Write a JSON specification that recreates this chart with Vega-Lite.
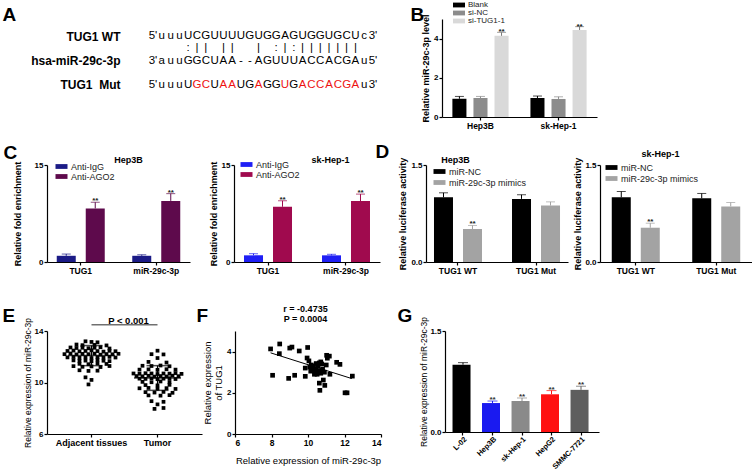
{
"$schema": "https://vega.github.io/schema/vega-lite/v6.json",
"padding": {"left": 2, "top": 1, "right": 0, "bottom": 0},
"autosize": {"type": "pad"},
"background": "white",
"config": {
  "font": "Liberation Sans",
  "view": {"stroke": null},
  "axis": {"domainColor": "#000", "domainWidth": 1.2, "tickColor": "#000", "tickWidth": 1.2, "tickSize": 3, "labelFontSize": 8, "labelFontWeight": "bold", "labelColor": "#000", "labelOverlap": false, "titleFontSize": 9, "titleFontWeight": "bold", "titleColor": "#000", "grid": false, "labelPadding": 1},
  "axisX": {"labelAngle": 0, "labelFontSize": 8.5},
  "legend": {"orient": "none", "title": null, "symbolType": "M-2,-0.8H2V0.8H-2Z", "symbolSize": 36, "symbolStrokeWidth": 0, "labelFontSize": 9, "labelColor": "#222", "labelFontWeight": "normal", "rowPadding": 0, "padding": 0, "offset": 0, "labelOffset": 5}
},
"datasets": {
  "a": [
    {"line":"TUG1 WT","pos":0,"ch":"5'"},{"line":"TUG1 WT","pos":1,"ch":"u"},{"line":"TUG1 WT","pos":2,"ch":"u"},{"line":"TUG1 WT","pos":3,"ch":"u"},
    {"line":"TUG1 WT","pos":4,"ch":"U"},{"line":"TUG1 WT","pos":5,"ch":"C"},{"line":"TUG1 WT","pos":6,"ch":"G"},{"line":"TUG1 WT","pos":7,"ch":"U"},
    {"line":"TUG1 WT","pos":8,"ch":"U"},{"line":"TUG1 WT","pos":9,"ch":"U"},{"line":"TUG1 WT","pos":10,"ch":"U"},{"line":"TUG1 WT","pos":11,"ch":"G"},
    {"line":"TUG1 WT","pos":12,"ch":"U"},{"line":"TUG1 WT","pos":13,"ch":"G"},{"line":"TUG1 WT","pos":14,"ch":"G"},{"line":"TUG1 WT","pos":15,"ch":"A"},
    {"line":"TUG1 WT","pos":16,"ch":"G"},{"line":"TUG1 WT","pos":17,"ch":"U"},{"line":"TUG1 WT","pos":18,"ch":"G"},{"line":"TUG1 WT","pos":19,"ch":"G"},
    {"line":"TUG1 WT","pos":20,"ch":"U"},{"line":"TUG1 WT","pos":21,"ch":"G"},{"line":"TUG1 WT","pos":22,"ch":"C"},{"line":"TUG1 WT","pos":23,"ch":"U"},
    {"line":"TUG1 WT","pos":24,"ch":"c"},{"line":"TUG1 WT","pos":25,"ch":"3'"},
    {"line":"pair","pos":4,"ch":":"},{"line":"pair","pos":5,"ch":"|"},{"line":"pair","pos":6,"ch":"|"},{"line":"pair","pos":8,"ch":"|"},
    {"line":"pair","pos":9,"ch":"|"},{"line":"pair","pos":12,"ch":"|"},{"line":"pair","pos":14,"ch":":"},{"line":"pair","pos":15,"ch":"|"},
    {"line":"pair","pos":16,"ch":":"},{"line":"pair","pos":17,"ch":"|"},{"line":"pair","pos":18,"ch":"|"},{"line":"pair","pos":19,"ch":"|"},
    {"line":"pair","pos":20,"ch":"|"},{"line":"pair","pos":21,"ch":"|"},{"line":"pair","pos":22,"ch":"|"},{"line":"pair","pos":23,"ch":"|"},
    {"line":"hsa-miR-29c-3p","pos":0,"ch":"3'"},{"line":"hsa-miR-29c-3p","pos":1,"ch":"a"},{"line":"hsa-miR-29c-3p","pos":2,"ch":"u"},{"line":"hsa-miR-29c-3p","pos":3,"ch":"u"},
    {"line":"hsa-miR-29c-3p","pos":4,"ch":"G"},{"line":"hsa-miR-29c-3p","pos":5,"ch":"G"},{"line":"hsa-miR-29c-3p","pos":6,"ch":"C"},{"line":"hsa-miR-29c-3p","pos":7,"ch":"U"},
    {"line":"hsa-miR-29c-3p","pos":8,"ch":"A"},{"line":"hsa-miR-29c-3p","pos":9,"ch":"A"},{"line":"hsa-miR-29c-3p","pos":10,"ch":"-"},{"line":"hsa-miR-29c-3p","pos":11,"ch":"-"},
    {"line":"hsa-miR-29c-3p","pos":12,"ch":"A"},{"line":"hsa-miR-29c-3p","pos":13,"ch":"G"},{"line":"hsa-miR-29c-3p","pos":14,"ch":"U"},{"line":"hsa-miR-29c-3p","pos":15,"ch":"U"},
    {"line":"hsa-miR-29c-3p","pos":16,"ch":"U"},{"line":"hsa-miR-29c-3p","pos":17,"ch":"A"},{"line":"hsa-miR-29c-3p","pos":18,"ch":"C"},{"line":"hsa-miR-29c-3p","pos":19,"ch":"C"},
    {"line":"hsa-miR-29c-3p","pos":20,"ch":"A"},{"line":"hsa-miR-29c-3p","pos":21,"ch":"C"},{"line":"hsa-miR-29c-3p","pos":22,"ch":"G"},{"line":"hsa-miR-29c-3p","pos":23,"ch":"A"},
    {"line":"hsa-miR-29c-3p","pos":24,"ch":"u"},{"line":"hsa-miR-29c-3p","pos":25,"ch":"5'"},
    {"line":"TUG1  Mut","pos":0,"ch":"5'"},{"line":"TUG1  Mut","pos":1,"ch":"u"},{"line":"TUG1  Mut","pos":2,"ch":"u"},{"line":"TUG1  Mut","pos":3,"ch":"u"},
    {"line":"TUG1  Mut","pos":4,"ch":"U"},{"line":"TUG1  Mut","pos":5,"ch":"G","mut":true},{"line":"TUG1  Mut","pos":6,"ch":"C","mut":true},{"line":"TUG1  Mut","pos":7,"ch":"U"},
    {"line":"TUG1  Mut","pos":8,"ch":"A","mut":true},{"line":"TUG1  Mut","pos":9,"ch":"A","mut":true},{"line":"TUG1  Mut","pos":10,"ch":"U"},{"line":"TUG1  Mut","pos":11,"ch":"G"},
    {"line":"TUG1  Mut","pos":12,"ch":"A","mut":true},{"line":"TUG1  Mut","pos":13,"ch":"G"},{"line":"TUG1  Mut","pos":14,"ch":"G"},{"line":"TUG1  Mut","pos":15,"ch":"U","mut":true},
    {"line":"TUG1  Mut","pos":16,"ch":"G"},{"line":"TUG1  Mut","pos":17,"ch":"A","mut":true},{"line":"TUG1  Mut","pos":18,"ch":"C","mut":true},{"line":"TUG1  Mut","pos":19,"ch":"C","mut":true},
    {"line":"TUG1  Mut","pos":20,"ch":"A","mut":true},{"line":"TUG1  Mut","pos":21,"ch":"C","mut":true},{"line":"TUG1  Mut","pos":22,"ch":"G","mut":true},{"line":"TUG1  Mut","pos":23,"ch":"A","mut":true},
    {"line":"TUG1  Mut","pos":24,"ch":"u"},{"line":"TUG1  Mut","pos":25,"ch":"3'"}
  ],
  "b": [
    {"cell":"Hep3B","series":"Blank","mean":0.93,"hi":1.05,"sig":""},
    {"cell":"Hep3B","series":"si-NC","mean":0.97,"hi":1.05,"sig":""},
    {"cell":"Hep3B","series":"si-TUG1-1","mean":4.14,"hi":4.32,"sig":"**"},
    {"cell":"sk-Hep-1","series":"Blank","mean":0.97,"hi":1.07,"sig":""},
    {"cell":"sk-Hep-1","series":"si-NC","mean":0.92,"hi":1.03,"sig":""},
    {"cell":"sk-Hep-1","series":"si-TUG1-1","mean":4.44,"hi":4.61,"sig":"**"}
  ],
  "c1": [
    {"cell":"TUG1","series":"Anti-IgG","mean":0.96,"hi":1.23,"sig":""},
    {"cell":"TUG1","series":"Anti-AGO2","mean":8.28,"hi":9.24,"sig":"**"},
    {"cell":"miR-29c-3p","series":"Anti-IgG","mean":0.96,"hi":1.12,"sig":""},
    {"cell":"miR-29c-3p","series":"Anti-AGO2","mean":9.45,"hi":10.57,"sig":"**"}
  ],
  "c2": [
    {"cell":"TUG1","series":"Anti-IgG","mean":1.03,"hi":1.29,"sig":""},
    {"cell":"TUG1","series":"Anti-AGO2","mean":8.54,"hi":9.47,"sig":"**"},
    {"cell":"miR-29c-3p","series":"Anti-IgG","mean":1.03,"hi":1.19,"sig":""},
    {"cell":"miR-29c-3p","series":"Anti-AGO2","mean":9.42,"hi":10.5,"sig":"**"}
  ],
  "d1": [
    {"cell":"TUG1 WT","series":"miR-NC","mean":1.0,"hi":1.07,"sig":""},
    {"cell":"TUG1 WT","series":"miR-29c-3p mimics","mean":0.51,"hi":0.565,"sig":"**"},
    {"cell":"TUG1 Mut","series":"miR-NC","mean":0.976,"hi":1.04,"sig":""},
    {"cell":"TUG1 Mut","series":"miR-29c-3p mimics","mean":0.873,"hi":0.93,"sig":""}
  ],
  "d2": [
    {"cell":"TUG1 WT","series":"miR-NC","mean":1.0,"hi":1.09,"sig":""},
    {"cell":"TUG1 WT","series":"miR-29c-3p mimics","mean":0.53,"hi":0.6,"sig":"**"},
    {"cell":"TUG1 Mut","series":"miR-NC","mean":0.985,"hi":1.06,"sig":""},
    {"cell":"TUG1 Mut","series":"miR-29c-3p mimics","mean":0.86,"hi":0.92,"sig":""}
  ],
  "e": [
    {"group":"Adjacent tissues","slot":-2,"value":13.2},{"group":"Adjacent tissues","slot":0,"value":13.15},{"group":"Adjacent tissues","slot":2,"value":13.12},
    {"group":"Adjacent tissues","slot":-5,"value":12.95},{"group":"Adjacent tissues","slot":-3,"value":12.9},{"group":"Adjacent tissues","slot":1,"value":12.92},{"group":"Adjacent tissues","slot":5,"value":12.88},
    {"group":"Adjacent tissues","slot":-7,"value":12.72},{"group":"Adjacent tissues","slot":-5,"value":12.68},{"group":"Adjacent tissues","slot":-3,"value":12.7},{"group":"Adjacent tissues","slot":-1,"value":12.66},
    {"group":"Adjacent tissues","slot":1,"value":12.7},{"group":"Adjacent tissues","slot":3,"value":12.74},{"group":"Adjacent tissues","slot":6,"value":12.64},
    {"group":"Adjacent tissues","slot":-8,"value":12.45},{"group":"Adjacent tissues","slot":-6,"value":12.48},{"group":"Adjacent tissues","slot":-4,"value":12.42},{"group":"Adjacent tissues","slot":-2,"value":12.45},
    {"group":"Adjacent tissues","slot":0,"value":12.5},{"group":"Adjacent tissues","slot":2,"value":12.44},{"group":"Adjacent tissues","slot":4,"value":12.4},{"group":"Adjacent tissues","slot":6,"value":12.46},{"group":"Adjacent tissues","slot":8,"value":12.43},
    {"group":"Adjacent tissues","slot":-9,"value":12.2},{"group":"Adjacent tissues","slot":-7,"value":12.25},{"group":"Adjacent tissues","slot":-5,"value":12.18},{"group":"Adjacent tissues","slot":-3,"value":12.22},
    {"group":"Adjacent tissues","slot":-1,"value":12.2},{"group":"Adjacent tissues","slot":1,"value":12.24},{"group":"Adjacent tissues","slot":3,"value":12.16},{"group":"Adjacent tissues","slot":5,"value":12.21},
    {"group":"Adjacent tissues","slot":7,"value":12.19},{"group":"Adjacent tissues","slot":9,"value":12.23},
    {"group":"Adjacent tissues","slot":-8,"value":11.95},{"group":"Adjacent tissues","slot":-6,"value":11.98},{"group":"Adjacent tissues","slot":-4,"value":11.92},{"group":"Adjacent tissues","slot":-2,"value":11.96},
    {"group":"Adjacent tissues","slot":0,"value":11.9},{"group":"Adjacent tissues","slot":2,"value":11.97},{"group":"Adjacent tissues","slot":4,"value":11.93},{"group":"Adjacent tissues","slot":6,"value":11.99},{"group":"Adjacent tissues","slot":8,"value":11.94},
    {"group":"Adjacent tissues","slot":-6,"value":11.72},{"group":"Adjacent tissues","slot":-4,"value":11.68},{"group":"Adjacent tissues","slot":-2,"value":11.7},{"group":"Adjacent tissues","slot":0,"value":11.65},
    {"group":"Adjacent tissues","slot":2,"value":11.74},{"group":"Adjacent tissues","slot":4,"value":11.69},{"group":"Adjacent tissues","slot":6,"value":11.66},
    {"group":"Adjacent tissues","slot":-4,"value":11.45},{"group":"Adjacent tissues","slot":-1,"value":11.42},{"group":"Adjacent tissues","slot":2,"value":11.48},{"group":"Adjacent tissues","slot":5,"value":11.44},
    {"group":"Adjacent tissues","slot":-6,"value":11.27},{"group":"Adjacent tissues","slot":-3,"value":11.22},{"group":"Adjacent tissues","slot":0,"value":11.25},{"group":"Adjacent tissues","slot":3,"value":11.2},{"group":"Adjacent tissues","slot":6,"value":11.28},
    {"group":"Adjacent tissues","slot":-4,"value":10.95},{"group":"Adjacent tissues","slot":-1,"value":10.9},{"group":"Adjacent tissues","slot":2,"value":10.92},
    {"group":"Adjacent tissues","slot":-2,"value":10.4},{"group":"Adjacent tissues","slot":0,"value":10.2},{"group":"Adjacent tissues","slot":-1,"value":9.85},
    {"group":"Tumor","slot":0,"value":12.47},{"group":"Tumor","slot":-2,"value":12.2},{"group":"Tumor","slot":2,"value":12.18},{"group":"Tumor","slot":0,"value":11.9},
    {"group":"Tumor","slot":-3,"value":11.6},{"group":"Tumor","slot":3,"value":11.55},
    {"group":"Tumor","slot":-5,"value":11.3},{"group":"Tumor","slot":-2,"value":11.28},{"group":"Tumor","slot":1,"value":11.32},{"group":"Tumor","slot":4,"value":11.26},
    {"group":"Tumor","slot":-6,"value":11.0},{"group":"Tumor","slot":-3,"value":11.02},{"group":"Tumor","slot":0,"value":10.98},{"group":"Tumor","slot":3,"value":11.03},{"group":"Tumor","slot":6,"value":11.0},
    {"group":"Tumor","slot":-8,"value":10.7},{"group":"Tumor","slot":-6,"value":10.68},{"group":"Tumor","slot":-4,"value":10.72},{"group":"Tumor","slot":-2,"value":10.7},{"group":"Tumor","slot":0,"value":10.66},
    {"group":"Tumor","slot":2,"value":10.7},{"group":"Tumor","slot":4,"value":10.69},{"group":"Tumor","slot":6,"value":10.73},{"group":"Tumor","slot":8,"value":10.67},
    {"group":"Tumor","slot":-7,"value":10.5},{"group":"Tumor","slot":-5,"value":10.48},{"group":"Tumor","slot":-3,"value":10.52},{"group":"Tumor","slot":-1,"value":10.46},
    {"group":"Tumor","slot":1,"value":10.5},{"group":"Tumor","slot":3,"value":10.47},{"group":"Tumor","slot":5,"value":10.53},{"group":"Tumor","slot":7,"value":10.49},
    {"group":"Tumor","slot":-6,"value":10.3},{"group":"Tumor","slot":-4,"value":10.28},{"group":"Tumor","slot":-2,"value":10.32},{"group":"Tumor","slot":0,"value":10.26},
    {"group":"Tumor","slot":2,"value":10.3},{"group":"Tumor","slot":4,"value":10.33},{"group":"Tumor","slot":6,"value":10.27},
    {"group":"Tumor","slot":-5,"value":10.05},{"group":"Tumor","slot":-2,"value":10.02},{"group":"Tumor","slot":1,"value":10.08},{"group":"Tumor","slot":4,"value":10.04},
    {"group":"Tumor","slot":-4,"value":9.8},{"group":"Tumor","slot":0,"value":9.78},{"group":"Tumor","slot":4,"value":9.82},
    {"group":"Tumor","slot":-6,"value":9.55},{"group":"Tumor","slot":-3,"value":9.58},{"group":"Tumor","slot":0,"value":9.52},{"group":"Tumor","slot":3,"value":9.56},{"group":"Tumor","slot":6,"value":9.5},
    {"group":"Tumor","slot":-4,"value":9.25},{"group":"Tumor","slot":-1,"value":9.22},{"group":"Tumor","slot":2,"value":9.27},{"group":"Tumor","slot":5,"value":9.2},
    {"group":"Tumor","slot":-3,"value":9.0},{"group":"Tumor","slot":1,"value":8.98},{"group":"Tumor","slot":4,"value":9.02},
    {"group":"Tumor","slot":-2,"value":8.55},{"group":"Tumor","slot":2,"value":8.5},{"group":"Tumor","slot":0,"value":8.3},
    {"group":"Tumor","slot":-1,"value":7.95},{"group":"Tumor","slot":2,"value":8.02}
  ],
  "e_stat": [
    {"group":"Adjacent tissues","mean":12.09,"lo":11.31,"hi":12.87},
    {"group":"Tumor","mean":10.35,"lo":9.39,"hi":11.31}
  ],
  "e_sig": [{"from":"Adjacent tissues","to":"Tumor","y":14.49}],
  "f": [
    {"mir":7.95,"tug1":4.13},{"mir":8.45,"tug1":4.37},{"mir":8.43,"tug1":3.9},{"mir":8.06,"tug1":2.85},{"mir":9.0,"tug1":4.17},
    {"mir":9.12,"tug1":4.22},{"mir":9.52,"tug1":4.03},{"mir":9.98,"tug1":4.2},{"mir":8.94,"tug1":2.7},{"mir":9.27,"tug1":2.85},
    {"mir":9.85,"tug1":2.8},{"mir":9.95,"tug1":3.69},{"mir":10.05,"tug1":3.55},{"mir":9.85,"tug1":3.2},{"mir":10.1,"tug1":3.25},
    {"mir":10.18,"tug1":3.35},{"mir":10.25,"tug1":3.12},{"mir":10.3,"tug1":3.3},{"mir":10.38,"tug1":3.02},{"mir":10.45,"tug1":3.15},
    {"mir":10.5,"tug1":2.9},{"mir":10.35,"tug1":2.9},{"mir":10.55,"tug1":3.3},{"mir":10.62,"tug1":3.45},{"mir":10.7,"tug1":3.5},
    {"mir":10.75,"tug1":3.4},{"mir":10.6,"tug1":3.05},{"mir":10.8,"tug1":3.15},{"mir":10.9,"tug1":3.0},{"mir":10.7,"tug1":2.95},
    {"mir":10.62,"tug1":2.47},{"mir":10.65,"tug1":2.12},{"mir":10.84,"tug1":2.62},{"mir":10.92,"tug1":2.36},{"mir":11.02,"tug1":3.82},
    {"mir":11.06,"tug1":3.68},{"mir":11.17,"tug1":3.78},{"mir":11.2,"tug1":2.9},{"mir":11.0,"tug1":3.35},{"mir":11.57,"tug1":3.48},
    {"mir":11.75,"tug1":3.38},{"mir":12.03,"tug1":2.0},{"mir":12.14,"tug1":2.0},{"mir":12.43,"tug1":2.81},{"mir":10.15,"tug1":3.05},
    {"mir":10.45,"tug1":3.42}
  ],
  "f_fit": [{"mir":7.95,"tug1":3.94},{"mir":12.4,"tug1":2.69}],
  "g": [
    {"cell":"L-02","mean":1.0,"hi":1.03,"sig":""},
    {"cell":"Hep3B","mean":0.43,"hi":0.46,"sig":"**"},
    {"cell":"sk-Hep-1","mean":0.46,"hi":0.505,"sig":"**"},
    {"cell":"HepG2","mean":0.56,"hi":0.615,"sig":"**"},
    {"cell":"SMMC-7721","mean":0.626,"hi":0.68,"sig":"**"}
  ]
},
"spacing": 0,
"vconcat": [
 {
  "hconcat": [
  {
    "width": 395, "height": 71,
    "data": {"name": "a"},
    "resolve": {"axis": {"x": "independent"}},
    "layer": [
      {"mark": {"type": "text", "fontSize": 11.5, "baseline": "middle", "align": "center"},
       "encoding": {
         "x": {"field": "pos", "type": "quantitative", "scale": {"domain": [0, 25], "range": [106, 326]}, "axis": null},
         "y": {"field": "line", "type": "ordinal", "scale": {"type": "point", "domain": ["TUG1 WT", "pair", "hsa-miR-29c-3p", "gap", "TUG1  Mut"], "range": [11, 72]},
               "axis": {"title": null, "domain": false, "ticks": false, "offset": -73, "labelPadding": 0, "labelFontSize": 12, "labelFontWeight": "bold", "labelExpr": "(datum.value == 'pair' || datum.value == 'gap') ? '' : replace(datum.value, '  ', '\u00a0\u00a0')"}},
         "text": {"field": "ch"},
         "color": {"condition": {"test": "datum.mut === true", "value": "#ee1111"}, "value": "#000"}
       }},
      {"mark": {"type": "text", "opacity": 0},
       "encoding": {
         "x": {"field": "pos", "type": "quantitative", "scale": {"domain": [0, 25], "range": [106, 326]}, "axis": {"orient": "top", "title": "A", "domain": false, "ticks": false, "labels": false, "titleX": -45, "titleY": 1, "titleAlign": "left", "titleBaseline": "alphabetic", "titleFontSize": 19, "titleFontWeight": "bold"}},
         "y": {"field": "line", "type": "ordinal"},
         "text": {"value": ""}
       }}
    ]
  },
  {
    "width": 155, "height": 98,
    "data": {"name": "b"},
    "resolve": {"scale": {"color": "independent"}, "axis": {"x": "independent"}},
    "layer": [
      {"mark": {"type": "bar"},
       "encoding": {
         "x": {"field": "cell", "type": "nominal", "sort": null, "scale": {"paddingInner": 0.19, "paddingOuter": 0.088}, "axis": {"title": null}},
         "xOffset": {"field": "series", "type": "nominal", "sort": null, "scale": {"paddingInner": 0.333, "paddingOuter": 0.167}},
         "y": {"field": "mean", "type": "quantitative", "title": "Relative miR-29c-3p level", "scale": {"domain": [0, 5]}, "axis": {"values": [0, 1, 2, 3, 4, 5], "labelOverlap": false, "titlePadding": 3}},
         "color": {"field": "series", "type": "nominal", "sort": null, "scale": {"domain": ["Blank", "si-NC", "si-TUG1-1"], "range": ["#000000", "#8c8c8c", "#d9d9d9"]},
                   "legend": {"legendX": 13, "legendY": -18, "labelFontSize": 8, "rowPadding": 0}}
       }},
      {"mark": {"type": "rule", "strokeWidth": 1},
       "encoding": {
         "x": {"field": "cell", "type": "nominal", "sort": null, "axis": {"orient": "top", "title": "B", "domain": false, "ticks": false, "labels": false, "titleX": -32, "titleY": 1, "titleAlign": "left", "titleBaseline": "alphabetic", "titleFontSize": 19, "titleFontWeight": "bold"}},
         "xOffset": {"field": "series", "type": "nominal", "sort": null},
         "y": {"field": "mean", "type": "quantitative", "title": "Relative miR-29c-3p level", "scale": {"domain": [0, 5]}},
         "y2": {"field": "hi"},
         "color": {"field": "series", "type": "nominal", "sort": null, "scale": {"domain": ["Blank", "si-NC", "si-TUG1-1"], "range": ["#000000", "#8c8c8c", "#777777"]}, "legend": null}
       }},
      {"mark": {"type": "tick", "size": 9, "thickness": 1, "orient": "horizontal"},
       "encoding": {
         "x": {"field": "cell", "type": "nominal", "sort": null, "axis": null},
         "xOffset": {"field": "series", "type": "nominal", "sort": null},
         "y": {"field": "hi", "type": "quantitative", "title": "Relative miR-29c-3p level", "scale": {"domain": [0, 5]}},
         "color": {"field": "series", "type": "nominal", "sort": null, "scale": {"domain": ["Blank", "si-NC", "si-TUG1-1"], "range": ["#000000", "#8c8c8c", "#777777"]}, "legend": null}
       }},
      {"mark": {"type": "text", "baseline": "alphabetic", "dy": 2, "fontSize": 8, "fontWeight": "bold", "color": "#222"},
       "encoding": {
         "x": {"field": "cell", "type": "nominal", "sort": null, "axis": null},
         "xOffset": {"field": "series", "type": "nominal", "sort": null},
         "y": {"field": "hi", "type": "quantitative", "title": "Relative miR-29c-3p level", "scale": {"domain": [0, 5]}},
         "text": {"field": "sig"}
       }}
    ]
  }
  ],
  "bounds": "flush", "spacing": 0,
  "resolve": {"scale": {"color": "independent", "x": "independent", "y": "independent"}, "legend": {"color": "independent"}}
 },
 {"width": 10, "height": 3, "data": {"values": [{}]}, "mark": "text", "encoding": {"text": {"value": ""}}},
 {
  "hconcat": [
  {
    "width": 143, "height": 97,
    "data": {"name": "c1"},
    "resolve": {"axis": {"x": "independent"}},
    "layer": [
      {"transform": [{"filter": "datum.series == 'Anti-IgG'"}], "mark": {"type": "bar", "width": 19, "xOffset": -14.5},
       "encoding": {
         "x": {"field": "cell", "type": "nominal", "sort": null, "scale": {"paddingInner": 0.232, "paddingOuter": 0.063}, "axis": {"title": null}},
         "y": {"field": "mean", "type": "quantitative", "title": "Relative fold enrichment", "scale": {"domain": [0, 15]}, "axis": {"values": [0, 5, 10, 15], "labelOverlap": false, "titlePadding": 12}},
         "color": {"field": "series", "type": "nominal", "sort": null, "scale": {"domain": ["Anti-IgG", "Anti-AGO2"], "range": ["#1b1b86", "#5e0a4c"]}, "legend": {"legendX": 10, "legendY": -3}}
       }},
      {"transform": [{"filter": "datum.series == 'Anti-AGO2'"}], "mark": {"type": "bar", "width": 19, "xOffset": 14.5},
       "encoding": {
         "x": {"field": "cell", "type": "nominal", "sort": null, "axis": null},
         "y": {"field": "mean", "type": "quantitative", "title": "Relative fold enrichment", "scale": {"domain": [0, 15]}},
         "color": {"field": "series", "type": "nominal", "sort": null, "scale": {"domain": ["Anti-IgG", "Anti-AGO2"], "range": ["#1b1b86", "#5e0a4c"]}, "legend": {"legendX": 10, "legendY": -3}}
       }},
      {"transform": [{"filter": "datum.series == 'Anti-IgG'"}], "mark": {"type": "rule", "strokeWidth": 1, "xOffset": -14.5, "color": "#1b1b86"},
       "encoding": {
         "x": {"field": "cell", "type": "nominal", "sort": null, "axis": {"orient": "top", "title": "C", "domain": false, "ticks": false, "labels": false, "titleX": -44, "titleY": -7, "titleAlign": "left", "titleBaseline": "alphabetic", "titleFontSize": 19, "titleFontWeight": "bold"}},
         "y": {"field": "mean", "type": "quantitative", "title": "Relative fold enrichment", "scale": {"domain": [0, 15]}},
         "y2": {"field": "hi"}
       }},
      {"transform": [{"filter": "datum.series == 'Anti-AGO2'"}], "mark": {"type": "rule", "strokeWidth": 1, "xOffset": 14.5, "color": "#5e0a4c"},
       "encoding": {
         "x": {"field": "cell", "type": "nominal", "sort": null, "axis": null},
         "y": {"field": "mean", "type": "quantitative", "title": "Relative fold enrichment", "scale": {"domain": [0, 15]}},
         "y2": {"field": "hi"}
       }},
      {"transform": [{"filter": "datum.series == 'Anti-IgG'"}], "mark": {"type": "tick", "size": 9, "thickness": 1, "orient": "horizontal", "xOffset": -14.5, "color": "#1b1b86"},
       "encoding": {
         "x": {"field": "cell", "type": "nominal", "sort": null, "axis": null},
         "y": {"field": "hi", "type": "quantitative", "title": "Relative fold enrichment", "scale": {"domain": [0, 15]}}
       }},
      {"transform": [{"filter": "datum.series == 'Anti-AGO2'"}], "mark": {"type": "tick", "size": 9, "thickness": 1, "orient": "horizontal", "xOffset": 14.5, "color": "#5e0a4c"},
       "encoding": {
         "x": {"field": "cell", "type": "nominal", "sort": null, "axis": null},
         "y": {"field": "hi", "type": "quantitative", "title": "Relative fold enrichment", "scale": {"domain": [0, 15]}}
       }},
      {"transform": [{"filter": "datum.series == 'Anti-AGO2'"}], "mark": {"type": "text", "baseline": "alphabetic", "dy": 1, "xOffset": 14.5, "fontSize": 8, "fontWeight": "bold", "color": "#222"},
       "encoding": {
         "x": {"field": "cell", "type": "nominal", "sort": null, "axis": {"orient": "top", "title": "Hep3B", "domain": false, "ticks": false, "labels": false, "titleX": 81, "titleY": -6, "titleBaseline": "middle", "titleAlign": "center", "titleFontSize": 9}},
         "y": {"field": "hi", "type": "quantitative", "title": "Relative fold enrichment", "scale": {"domain": [0, 15]}},
         "text": {"field": "sig"}
       }}
    ]
  },
  {"width": 44, "height": 10, "data": {"values": [{}]}, "mark": "text", "encoding": {"text": {"value": ""}}},
  {
    "width": 146, "height": 97,
    "data": {"name": "c2"},
    "resolve": {"axis": {"x": "independent"}},
    "layer": [
      {"transform": [{"filter": "datum.series == 'Anti-IgG'"}], "mark": {"type": "bar", "width": 19, "xOffset": -14.5},
       "encoding": {
         "x": {"field": "cell", "type": "nominal", "sort": null, "scale": {"paddingInner": 0.256, "paddingOuter": 0.064}, "axis": {"title": null}},
         "y": {"field": "mean", "type": "quantitative", "title": "Relative fold enrichment", "scale": {"domain": [0, 15]}, "axis": {"values": [0, 5, 10, 15], "labelOverlap": false, "titlePadding": 3}},
         "color": {"field": "series", "type": "nominal", "sort": null, "scale": {"domain": ["Anti-IgG", "Anti-AGO2"], "range": ["#1f1ff5", "#a00a4e"]}, "legend": {"legendX": 8, "legendY": -5}}
       }},
      {"transform": [{"filter": "datum.series == 'Anti-AGO2'"}], "mark": {"type": "bar", "width": 19, "xOffset": 14.5},
       "encoding": {
         "x": {"field": "cell", "type": "nominal", "sort": null, "axis": null},
         "y": {"field": "mean", "type": "quantitative", "title": "Relative fold enrichment", "scale": {"domain": [0, 15]}},
         "color": {"field": "series", "type": "nominal", "sort": null, "scale": {"domain": ["Anti-IgG", "Anti-AGO2"], "range": ["#1f1ff5", "#a00a4e"]}, "legend": {"legendX": 8, "legendY": -5}}
       }},
      {"transform": [{"filter": "datum.series == 'Anti-IgG'"}], "mark": {"type": "rule", "strokeWidth": 1, "xOffset": -14.5, "color": "#1f1ff5"},
       "encoding": {
         "x": {"field": "cell", "type": "nominal", "sort": null, "axis": null},
         "y": {"field": "mean", "type": "quantitative", "title": "Relative fold enrichment", "scale": {"domain": [0, 15]}},
         "y2": {"field": "hi"}
       }},
      {"transform": [{"filter": "datum.series == 'Anti-AGO2'"}], "mark": {"type": "rule", "strokeWidth": 1, "xOffset": 14.5, "color": "#a00a4e"},
       "encoding": {
         "x": {"field": "cell", "type": "nominal", "sort": null, "axis": null},
         "y": {"field": "mean", "type": "quantitative", "title": "Relative fold enrichment", "scale": {"domain": [0, 15]}},
         "y2": {"field": "hi"}
       }},
      {"transform": [{"filter": "datum.series == 'Anti-IgG'"}], "mark": {"type": "tick", "size": 9, "thickness": 1, "orient": "horizontal", "xOffset": -14.5, "color": "#1f1ff5"},
       "encoding": {
         "x": {"field": "cell", "type": "nominal", "sort": null, "axis": null},
         "y": {"field": "hi", "type": "quantitative", "title": "Relative fold enrichment", "scale": {"domain": [0, 15]}}
       }},
      {"transform": [{"filter": "datum.series == 'Anti-AGO2'"}], "mark": {"type": "tick", "size": 9, "thickness": 1, "orient": "horizontal", "xOffset": 14.5, "color": "#a00a4e"},
       "encoding": {
         "x": {"field": "cell", "type": "nominal", "sort": null, "axis": null},
         "y": {"field": "hi", "type": "quantitative", "title": "Relative fold enrichment", "scale": {"domain": [0, 15]}}
       }},
      {"transform": [{"filter": "datum.series == 'Anti-AGO2'"}], "mark": {"type": "text", "baseline": "alphabetic", "dy": 1, "xOffset": 14.5, "fontSize": 8, "fontWeight": "bold", "color": "#222"},
       "encoding": {
         "x": {"field": "cell", "type": "nominal", "sort": null, "axis": {"orient": "top", "title": "sk-Hep-1", "domain": false, "ticks": false, "labels": false, "titleX": 96, "titleY": -6, "titleBaseline": "middle", "titleAlign": "center", "titleFontSize": 9}},
         "y": {"field": "hi", "type": "quantitative", "title": "Relative fold enrichment", "scale": {"domain": [0, 15]}},
         "text": {"field": "sig"}
       }}
    ]
  },
  {"width": 46, "height": 10, "data": {"values": [{}]}, "mark": "text", "encoding": {"text": {"value": ""}}},
  {
    "width": 142, "height": 97,
    "data": {"name": "d1"},
    "resolve": {"axis": {"x": "independent"}},
    "layer": [
      {"transform": [{"filter": "datum.series == 'miR-NC'"}], "mark": {"type": "bar", "width": 19, "xOffset": -14.5},
       "encoding": {
         "x": {"field": "cell", "type": "nominal", "sort": null, "scale": {"paddingInner": 0.256, "paddingOuter": 0.038}, "axis": {"title": null}},
         "y": {"field": "mean", "type": "quantitative", "title": "Relative luciferase activity", "scale": {"domain": [0, 1.5]}, "axis": {"values": [0, 0.5, 1, 1.5], "format": ".1f", "labelOverlap": false, "titlePadding": 3}},
         "color": {"field": "series", "type": "nominal", "sort": null, "scale": {"domain": ["miR-NC", "miR-29c-3p mimics"], "range": ["#000000", "#a3a3a3"]}, "legend": {"legendX": 9, "legendY": 2, "rowPadding": 1}}
       }},
      {"transform": [{"filter": "datum.series == 'miR-29c-3p mimics'"}], "mark": {"type": "bar", "width": 19, "xOffset": 14.5},
       "encoding": {
         "x": {"field": "cell", "type": "nominal", "sort": null, "axis": null},
         "y": {"field": "mean", "type": "quantitative", "title": "Relative luciferase activity", "scale": {"domain": [0, 1.5]}},
         "color": {"field": "series", "type": "nominal", "sort": null, "scale": {"domain": ["miR-NC", "miR-29c-3p mimics"], "range": ["#000000", "#a3a3a3"]}, "legend": {"legendX": 9, "legendY": 2, "rowPadding": 1}}
       }},
      {"transform": [{"filter": "datum.series == 'miR-NC'"}], "mark": {"type": "rule", "strokeWidth": 1, "xOffset": -14.5, "color": "#000000"},
       "encoding": {
         "x": {"field": "cell", "type": "nominal", "sort": null, "axis": {"orient": "top", "title": "D", "domain": false, "ticks": false, "labels": false, "titleX": -51, "titleY": -8, "titleAlign": "left", "titleBaseline": "alphabetic", "titleFontSize": 19, "titleFontWeight": "bold"}},
         "y": {"field": "mean", "type": "quantitative", "title": "Relative luciferase activity", "scale": {"domain": [0, 1.5]}},
         "y2": {"field": "hi"}
       }},
      {"transform": [{"filter": "datum.series == 'miR-29c-3p mimics'"}], "mark": {"type": "rule", "strokeWidth": 1, "xOffset": 14.5, "color": "#a3a3a3"},
       "encoding": {
         "x": {"field": "cell", "type": "nominal", "sort": null, "axis": null},
         "y": {"field": "mean", "type": "quantitative", "title": "Relative luciferase activity", "scale": {"domain": [0, 1.5]}},
         "y2": {"field": "hi"}
       }},
      {"transform": [{"filter": "datum.series == 'miR-NC'"}], "mark": {"type": "tick", "size": 9, "thickness": 1, "orient": "horizontal", "xOffset": -14.5, "color": "#000000"},
       "encoding": {
         "x": {"field": "cell", "type": "nominal", "sort": null, "axis": null},
         "y": {"field": "hi", "type": "quantitative", "title": "Relative luciferase activity", "scale": {"domain": [0, 1.5]}}
       }},
      {"transform": [{"filter": "datum.series == 'miR-29c-3p mimics'"}], "mark": {"type": "tick", "size": 9, "thickness": 1, "orient": "horizontal", "xOffset": 14.5, "color": "#a3a3a3"},
       "encoding": {
         "x": {"field": "cell", "type": "nominal", "sort": null, "axis": null},
         "y": {"field": "hi", "type": "quantitative", "title": "Relative luciferase activity", "scale": {"domain": [0, 1.5]}}
       }},
      {"transform": [{"filter": "datum.series == 'miR-29c-3p mimics'"}], "mark": {"type": "text", "baseline": "alphabetic", "dy": 1, "xOffset": 14.5, "fontSize": 8, "fontWeight": "bold", "color": "#222"},
       "encoding": {
         "x": {"field": "cell", "type": "nominal", "sort": null, "axis": {"orient": "top", "title": "Hep3B", "domain": false, "ticks": false, "labels": false, "titleX": 29, "titleY": -6, "titleBaseline": "middle", "titleAlign": "center", "titleFontSize": 9}},
         "y": {"field": "hi", "type": "quantitative", "title": "Relative luciferase activity", "scale": {"domain": [0, 1.5]}},
         "text": {"field": "sig"}
       }}
    ]
  },
  {"width": 32, "height": 10, "data": {"values": [{}]}, "mark": "text", "encoding": {"text": {"value": ""}}},
  {
    "width": 152, "height": 97,
    "data": {"name": "d2"},
    "resolve": {"axis": {"x": "independent"}},
    "layer": [
      {"transform": [{"filter": "datum.series == 'miR-NC'"}], "mark": {"type": "bar", "width": 19, "xOffset": -14.5},
       "encoding": {
         "x": {"field": "cell", "type": "nominal", "sort": null, "scale": {"paddingInner": 0.267, "paddingOuter": 0.078}, "axis": {"title": null}},
         "y": {"field": "mean", "type": "quantitative", "title": "Relative luciferase activity", "scale": {"domain": [0, 1.5]}, "axis": {"values": [0, 0.5, 1, 1.5], "format": ".1f", "labelOverlap": false, "titlePadding": 2}},
         "color": {"field": "series", "type": "nominal", "sort": null, "scale": {"domain": ["miR-NC", "miR-29c-3p mimics"], "range": ["#000000", "#a3a3a3"]}, "legend": {"legendX": 7, "legendY": -2, "rowPadding": 1}}
       }},
      {"transform": [{"filter": "datum.series == 'miR-29c-3p mimics'"}], "mark": {"type": "bar", "width": 19, "xOffset": 14.5},
       "encoding": {
         "x": {"field": "cell", "type": "nominal", "sort": null, "axis": null},
         "y": {"field": "mean", "type": "quantitative", "title": "Relative luciferase activity", "scale": {"domain": [0, 1.5]}},
         "color": {"field": "series", "type": "nominal", "sort": null, "scale": {"domain": ["miR-NC", "miR-29c-3p mimics"], "range": ["#000000", "#a3a3a3"]}, "legend": {"legendX": 7, "legendY": -2, "rowPadding": 1}}
       }},
      {"transform": [{"filter": "datum.series == 'miR-NC'"}], "mark": {"type": "rule", "strokeWidth": 1, "xOffset": -14.5, "color": "#000000"},
       "encoding": {
         "x": {"field": "cell", "type": "nominal", "sort": null, "axis": null},
         "y": {"field": "mean", "type": "quantitative", "title": "Relative luciferase activity", "scale": {"domain": [0, 1.5]}},
         "y2": {"field": "hi"}
       }},
      {"transform": [{"filter": "datum.series == 'miR-29c-3p mimics'"}], "mark": {"type": "rule", "strokeWidth": 1, "xOffset": 14.5, "color": "#a3a3a3"},
       "encoding": {
         "x": {"field": "cell", "type": "nominal", "sort": null, "axis": null},
         "y": {"field": "mean", "type": "quantitative", "title": "Relative luciferase activity", "scale": {"domain": [0, 1.5]}},
         "y2": {"field": "hi"}
       }},
      {"transform": [{"filter": "datum.series == 'miR-NC'"}], "mark": {"type": "tick", "size": 9, "thickness": 1, "orient": "horizontal", "xOffset": -14.5, "color": "#000000"},
       "encoding": {
         "x": {"field": "cell", "type": "nominal", "sort": null, "axis": null},
         "y": {"field": "hi", "type": "quantitative", "title": "Relative luciferase activity", "scale": {"domain": [0, 1.5]}}
       }},
      {"transform": [{"filter": "datum.series == 'miR-29c-3p mimics'"}], "mark": {"type": "tick", "size": 9, "thickness": 1, "orient": "horizontal", "xOffset": 14.5, "color": "#a3a3a3"},
       "encoding": {
         "x": {"field": "cell", "type": "nominal", "sort": null, "axis": null},
         "y": {"field": "hi", "type": "quantitative", "title": "Relative luciferase activity", "scale": {"domain": [0, 1.5]}}
       }},
      {"transform": [{"filter": "datum.series == 'miR-29c-3p mimics'"}], "mark": {"type": "text", "baseline": "alphabetic", "dy": 1, "xOffset": 14.5, "fontSize": 8, "fontWeight": "bold", "color": "#222"},
       "encoding": {
         "x": {"field": "cell", "type": "nominal", "sort": null, "axis": {"orient": "top", "title": "sk-Hep-1", "domain": false, "ticks": false, "labels": false, "titleX": 60, "titleY": -12, "titleBaseline": "middle", "titleAlign": "center", "titleFontSize": 9}},
         "y": {"field": "hi", "type": "quantitative", "title": "Relative luciferase activity", "scale": {"domain": [0, 1.5]}},
         "text": {"field": "sig"}
       }}
    ]
  }
  ],
  "bounds": "flush", "spacing": 0,
  "resolve": {"scale": {"color": "independent", "x": "independent", "y": "independent"}, "legend": {"color": "independent"}}
 },
 {"width": 10, "height": 29, "data": {"values": [{}]}, "mark": "text", "encoding": {"text": {"value": ""}}},
 {
  "hconcat": [
  {
    "width": 155, "height": 103,
    "resolve": {"axis": {"x": "independent"}},
    "layer": [
      {"data": {"name": "e"}, "mark": {"type": "square", "size": 14, "color": "#000", "opacity": 1},
       "encoding": {
         "x": {"field": "group", "type": "nominal", "sort": null, "scale": {"domain": ["Adjacent tissues", "Tumor"], "paddingInner": 0, "paddingOuter": 0.174}, "axis": {"title": null, "labelFontSize": 9}},
         "xOffset": {"field": "slot", "type": "quantitative", "scale": {"domain": [-11, 11]}},
         "y": {"field": "value", "type": "quantitative", "title": "Relative expression of miR-29c-3p", "scale": {"domain": [6, 14], "zero": false}, "axis": {"values": [6, 8, 10, 12, 14], "labelOverlap": false, "titleFontWeight": "normal", "titleFontSize": 8.5, "titlePadding": 2}}
       }},
      {"data": {"name": "e_stat"}, "mark": {"type": "tick", "size": 47, "thickness": 1.5, "orient": "horizontal", "color": "#000"},
       "encoding": {
         "x": {"field": "group", "type": "nominal", "sort": null, "axis": {"orient": "top", "title": "E", "domain": false, "ticks": false, "labels": false, "titleX": -45, "titleY": -10, "titleAlign": "left", "titleBaseline": "alphabetic", "titleFontSize": 19, "titleFontWeight": "bold"}},
         "y": {"field": "mean", "type": "quantitative", "title": "Relative expression of miR-29c-3p", "scale": {"domain": [6, 14], "zero": false}}
       }},
      {"data": {"name": "e_stat"}, "mark": {"type": "tick", "size": 22, "thickness": 1.5, "orient": "horizontal", "color": "#000"},
       "encoding": {
         "x": {"field": "group", "type": "nominal", "sort": null, "axis": null},
         "y": {"field": "lo", "type": "quantitative", "title": "Relative expression of miR-29c-3p", "scale": {"domain": [6, 14], "zero": false}}
       }},
      {"data": {"name": "e_stat"}, "mark": {"type": "tick", "size": 22, "thickness": 1.5, "orient": "horizontal", "color": "#000"},
       "encoding": {
         "x": {"field": "group", "type": "nominal", "sort": null, "axis": null},
         "y": {"field": "hi", "type": "quantitative", "title": "Relative expression of miR-29c-3p", "scale": {"domain": [6, 14], "zero": false}}
       }},
      {"data": {"name": "e_stat"}, "mark": {"type": "rule", "strokeWidth": 1.2, "color": "#000"},
       "encoding": {
         "x": {"field": "group", "type": "nominal", "sort": null, "axis": null},
         "y": {"field": "lo", "type": "quantitative", "title": "Relative expression of miR-29c-3p", "scale": {"domain": [6, 14], "zero": false}},
         "y2": {"field": "hi"}
       }},
      {"data": {"name": "e_sig"}, "mark": {"type": "rule", "strokeWidth": 1.6, "color": "#707070"},
       "encoding": {
         "x": {"field": "from", "type": "nominal", "sort": null, "axis": {"orient": "top", "title": "P < 0.001", "domain": false, "ticks": false, "labels": false, "titleX": 81, "titleY": -11, "titleBaseline": "middle", "titleAlign": "center", "titleFontSize": 9.5}},
         "x2": {"field": "to"},
         "y": {"field": "y", "type": "quantitative", "title": "Relative expression of miR-29c-3p", "scale": {"domain": [6, 14], "zero": false}}
       }}
    ]
  },
  {"width": 33, "height": 10, "data": {"values": [{}]}, "mark": "text", "encoding": {"text": {"value": ""}}},
  {
    "width": 146, "height": 103,
    "resolve": {"axis": {"x": "independent"}},
    "layer": [
      {"data": {"name": "f"}, "mark": {"type": "square", "size": 22, "color": "#000", "opacity": 1},
       "encoding": {
         "x": {"field": "mir", "type": "quantitative", "title": "Relative expression of miR-29c-3p", "scale": {"domain": [6, 14], "zero": false}, "axis": {"values": [6, 8, 10, 12, 14], "labelOverlap": false, "titleFontWeight": "normal", "titleFontSize": 9.5, "titlePadding": 9}},
         "y": {"field": "tug1", "type": "quantitative", "title": ["Relative expression", "of TUG1"], "scale": {"domain": [0, 5]}, "axis": {"values": [0, 1, 2, 3, 4, 5], "labelOverlap": false, "titleFontWeight": "normal", "titleFontSize": 9.5, "titlePadding": 3, "titleLineHeight": 11}}
       }},
      {"data": {"name": "f_fit"}, "mark": {"type": "line", "color": "#000", "strokeWidth": 1},
       "encoding": {
         "x": {"field": "mir", "type": "quantitative", "scale": {"domain": [6, 14], "zero": false}, "axis": {"orient": "top", "title": ["r = -0.4735", "P = 0.0004"], "domain": false, "ticks": false, "labels": false, "titleX": 70, "titleY": -27, "titleBaseline": "top", "titleAlign": "center", "titleFontSize": 9, "titleLineHeight": 10}},
         "y": {"field": "tug1", "type": "quantitative", "title": ["Relative expression", "of TUG1"], "scale": {"domain": [0, 5]}}
       }},
      {"data": {"name": "f_fit"}, "mark": {"type": "point", "opacity": 0},
       "encoding": {
         "x": {"field": "mir", "type": "quantitative", "scale": {"domain": [6, 14], "zero": false}, "axis": {"orient": "top", "title": "F", "domain": false, "ticks": false, "labels": false, "titleX": -39, "titleY": -10, "titleAlign": "left", "titleBaseline": "alphabetic", "titleFontSize": 19, "titleFontWeight": "bold"}},
         "y": {"field": "tug1", "type": "quantitative", "title": ["Relative expression", "of TUG1"], "scale": {"domain": [0, 5]}}
       }}
    ]
  },
  {"width": 64, "height": 10, "data": {"values": [{}]}, "mark": "text", "encoding": {"text": {"value": ""}}},
  {
    "width": 154, "height": 101,
    "data": {"name": "g"},
    "resolve": {"axis": {"x": "independent"}},
    "layer": [
      {"mark": {"type": "bar"},
       "encoding": {
         "x": {"field": "cell", "type": "nominal", "sort": null, "scale": {"paddingInner": 0.29, "paddingOuter": 0.255}, "axis": {"title": null, "labelAngle": -45, "labelFontSize": 7.5, "labelPadding": 0}},
         "y": {"field": "mean", "type": "quantitative", "title": "Relative expression of miR-29c-3p", "scale": {"domain": [0, 1.5]}, "axis": {"values": [0, 0.5, 1, 1.5], "format": ".1f", "labelOverlap": false, "titleFontWeight": "normal", "titleFontSize": 8.5, "titlePadding": 1}},
         "color": {"field": "cell", "type": "nominal", "sort": null, "scale": {"domain": ["L-02", "Hep3B", "sk-Hep-1", "HepG2", "SMMC-7721"], "range": ["#000000", "#1a1af0", "#8a8a8a", "#ff1010", "#5e5e5e"]}, "legend": null}
       }},
      {"mark": {"type": "rule", "strokeWidth": 1},
       "encoding": {
         "x": {"field": "cell", "type": "nominal", "sort": null, "axis": {"orient": "top", "title": "G", "domain": false, "ticks": false, "labels": false, "titleX": -48, "titleY": -10, "titleAlign": "left", "titleBaseline": "alphabetic", "titleFontSize": 19, "titleFontWeight": "bold"}},
         "y": {"field": "mean", "type": "quantitative", "title": "Relative expression of miR-29c-3p", "scale": {"domain": [0, 1.5]}},
         "y2": {"field": "hi"},
         "color": {"field": "cell", "type": "nominal", "sort": null, "scale": {"domain": ["L-02", "Hep3B", "sk-Hep-1", "HepG2", "SMMC-7721"], "range": ["#000000", "#1a1af0", "#8a8a8a", "#ff1010", "#5e5e5e"]}, "legend": null}
       }},
      {"mark": {"type": "tick", "size": 10, "thickness": 1, "orient": "horizontal"},
       "encoding": {
         "x": {"field": "cell", "type": "nominal", "sort": null, "axis": null},
         "y": {"field": "hi", "type": "quantitative", "title": "Relative expression of miR-29c-3p", "scale": {"domain": [0, 1.5]}},
         "color": {"field": "cell", "type": "nominal", "sort": null, "scale": {"domain": ["L-02", "Hep3B", "sk-Hep-1", "HepG2", "SMMC-7721"], "range": ["#000000", "#1a1af0", "#8a8a8a", "#ff1010", "#5e5e5e"]}, "legend": null}
       }},
      {"mark": {"type": "text", "baseline": "alphabetic", "dy": 1, "fontSize": 8, "fontWeight": "bold", "color": "#333"},
       "encoding": {
         "x": {"field": "cell", "type": "nominal", "sort": null, "axis": null},
         "y": {"field": "hi", "type": "quantitative", "title": "Relative expression of miR-29c-3p", "scale": {"domain": [0, 1.5]}},
         "text": {"field": "sig"}
       }}
    ]
  }
  ],
  "bounds": "flush", "spacing": 0,
  "resolve": {"scale": {"color": "independent", "x": "independent", "y": "independent"}, "legend": {"color": "independent"}}
 }
]
}
